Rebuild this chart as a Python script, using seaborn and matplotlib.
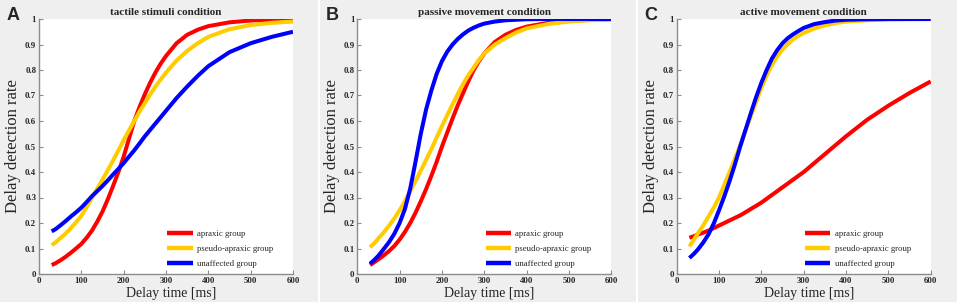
import numpy as np
import pandas as pd
import seaborn as sns
import matplotlib.pyplot as plt
from matplotlib.patches import Rectangle

delay = [30, 40, 50, 62.5, 75, 87.5, 100, 112.5, 125, 137.5, 150, 162.5, 175, 187.5, 200,
         212.5, 225, 237.5, 250, 262.5, 275, 287.5, 300, 325, 350, 375, 400, 450, 500, 550, 600]

groups = ['apraxic group', 'pseudo-apraxic group', 'unaffected group']
colors = ['#ff0000', '#ffcc00', '#0000ff']

# A: tactile stimuli
tactile_apraxic = [0.035, 0.043, 0.053, 0.067, 0.083, 0.10, 0.118, 0.142, 0.17, 0.205, 0.245, 0.293, 0.345, 0.40, 0.46,
                   0.53, 0.60, 0.655, 0.705, 0.75, 0.79, 0.825, 0.855, 0.905, 0.938, 0.958, 0.972, 0.987, 0.994, 0.997, 0.998]
tactile_pseudo = [0.113, 0.125, 0.14, 0.158, 0.18, 0.203, 0.228, 0.262, 0.298, 0.334, 0.37, 0.407, 0.445, 0.485, 0.525,
                  0.563, 0.60, 0.637, 0.67, 0.704, 0.735, 0.763, 0.79, 0.837, 0.875, 0.905, 0.93, 0.96, 0.976, 0.985, 0.99]
tactile_unaff = [0.167, 0.177, 0.19, 0.207, 0.225, 0.242, 0.26, 0.282, 0.305, 0.325, 0.345, 0.367, 0.39, 0.412, 0.435,
                 0.46, 0.485, 0.512, 0.54, 0.565, 0.59, 0.615, 0.64, 0.69, 0.735, 0.777, 0.815, 0.87, 0.905, 0.93, 0.95]

# B: passive movement
passive_apraxic = [0.035, 0.046, 0.058, 0.073, 0.09, 0.11, 0.135, 0.165, 0.20, 0.24, 0.285, 0.333, 0.385, 0.44, 0.50,
                   0.555, 0.61, 0.662, 0.71, 0.757, 0.80, 0.835, 0.865, 0.91, 0.938, 0.957, 0.97, 0.985, 0.993, 0.997, 0.999]
passive_pseudo = [0.105, 0.12, 0.14, 0.163, 0.19, 0.218, 0.25, 0.285, 0.325, 0.365, 0.405, 0.447, 0.49, 0.535, 0.58,
                  0.623, 0.665, 0.706, 0.745, 0.78, 0.81, 0.84, 0.865, 0.90, 0.925, 0.947, 0.963, 0.98, 0.99, 0.995, 0.998]
passive_unaff = [0.04, 0.055, 0.072, 0.098, 0.125, 0.158, 0.20, 0.255, 0.335, 0.44, 0.55, 0.645, 0.72, 0.785, 0.835,
                 0.872, 0.90, 0.922, 0.94, 0.955, 0.966, 0.975, 0.982, 0.99, 0.995, 0.997, 0.999, 1.0, 1.0, 1.0, 1.0]

# C: active movement
active_apraxic = [0.142, 0.148, 0.155, 0.162, 0.17, 0.18, 0.19, 0.20, 0.21, 0.22, 0.23, 0.242, 0.255, 0.267, 0.28,
                  0.295, 0.31, 0.325, 0.34, 0.355, 0.37, 0.385, 0.40, 0.435, 0.47, 0.505, 0.54, 0.605, 0.66, 0.71, 0.755]
active_pseudo = [0.108, 0.133, 0.16, 0.19, 0.225, 0.26, 0.30, 0.35, 0.40, 0.452, 0.505, 0.563, 0.62, 0.675, 0.73,
                 0.778, 0.82, 0.853, 0.88, 0.902, 0.92, 0.934, 0.945, 0.963, 0.975, 0.984, 0.99, 0.995, 0.998, 0.999, 1.0]
active_unaff = [0.063, 0.078, 0.096, 0.123, 0.155, 0.198, 0.25, 0.305, 0.365, 0.43, 0.50, 0.565, 0.63, 0.693, 0.75,
                0.80, 0.845, 0.878, 0.905, 0.925, 0.94, 0.953, 0.965, 0.98, 0.988, 0.994, 0.997, 0.999, 1.0, 1.0, 1.0]

titles = ['tactile stimuli condition', 'passive movement condition', 'active movement condition']
letters = ['A', 'B', 'C']
panels = [
    [tactile_apraxic, tactile_pseudo, tactile_unaff],
    [passive_apraxic, passive_pseudo, passive_unaff],
    [active_apraxic, active_pseudo, active_unaff],
]

sns.set_style('white')
plt.rcParams['font.family'] = ['Liberation Serif', 'DejaVu Serif']

W, H = 957, 305
fig = plt.figure(figsize=(W / 100, H / 100), dpi=100, facecolor='white')

# gray panel backgrounds
bg = [(0, 318), (320, 636), (638, 957)]
for x0, x1 in bg:
    fig.patches.append(Rectangle((x0 / W, 1 - 302 / H), (x1 - x0) / W, 302 / H,
                                 transform=fig.transFigure, facecolor='#efefef',
                                 edgecolor='none', zorder=-10))

ax_left = [39, 357.3, 676.7]
ax_w = 254
ax_top, ax_bot = 19, 274

for i in range(3):
    ax = fig.add_axes([ax_left[i] / W, 1 - ax_bot / H, ax_w / W, (ax_bot - ax_top) / H])
    ax.set_facecolor('white')
    df = pd.concat([pd.DataFrame({'delay': delay, 'rate': vals, 'group': g})
                    for g, vals in zip(groups, panels[i])])
    sns.lineplot(data=df, x='delay', y='rate', hue='group', palette=colors,
                 hue_order=groups, linewidth=2.9, ax=ax, legend=True)
    for ln in ax.get_lines():
        ln.set_solid_joinstyle('round')
        ln.set_solid_capstyle('butt')
    ax.set_xlim(0, 600)
    ax.set_ylim(0, 1)
    ax.set_xticks(np.arange(0, 601, 100))
    ax.set_yticks(np.arange(0, 1.01, 0.1))
    ax.set_yticklabels(['0'] + ['%.1f' % v for v in np.arange(0.1, 0.95, 0.1)] + ['1'])
    for s in ['top', 'right']:
        ax.spines[s].set_visible(False)
    for s in ['left', 'bottom']:
        ax.spines[s].set_color('#8c8c8c')
        ax.spines[s].set_linewidth(1.0)
    ax.tick_params(direction='in', length=3, width=0.8, color='#8c8c8c',
                   labelsize=6.3, pad=2, left=True, bottom=True)
    for lab in ax.get_xticklabels() + ax.get_yticklabels():
        lab.set_fontweight('bold')
    ax.set_xlabel('Delay time [ms]', fontsize=10)
    ax.set_ylabel('Delay detection rate', fontsize=12)
    ax.xaxis.set_label_coords(0.52, -0.05)
    ax.yaxis.set_label_coords(-0.07, 0.5)
    ax.set_title(titles[i], fontsize=8, fontweight='bold', pad=3)
    leg = ax.legend(loc='lower left', bbox_to_anchor=(0.505, 0.025), frameon=False,
                    fontsize=6.3, handlelength=2.9, handletextpad=0.5,
                    labelspacing=0.75, borderpad=0, borderaxespad=0)
    for h in leg.get_lines():
        h.set_linewidth(3.2)
    fig.text((ax_left[i] - 32) / W, 1 - 7 / H, letters[i], fontsize=13,
             fontweight='bold', family=['Liberation Sans', 'DejaVu Sans'],
             ha='left', va='top')

fig.savefig('out.png', dpi=100, facecolor=fig.get_facecolor())
